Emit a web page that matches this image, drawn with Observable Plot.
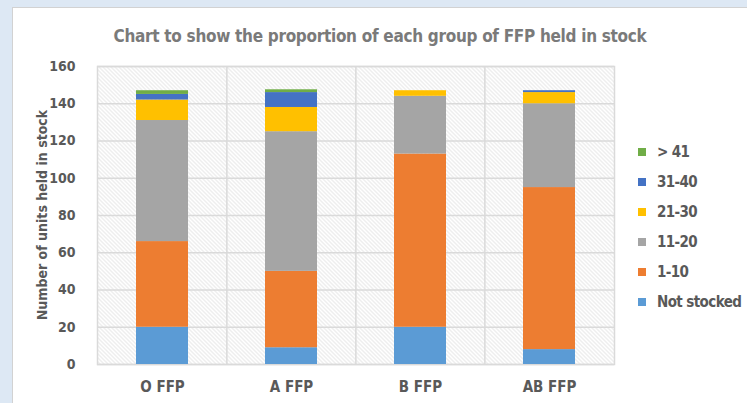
<!DOCTYPE html>
<html><head><meta charset="utf-8">
<script src="https://cdn.jsdelivr.net/npm/d3@7"></script>
<script src="https://cdn.jsdelivr.net/npm/@observablehq/plot@0.6"></script>
<style>
html,body{margin:0;padding:0;}
body{width:747px;height:403px;background:#dde8f4;position:relative;overflow:hidden;
  font-family:"Liberation Sans Narrow","DejaVu Sans Condensed","Roboto Condensed",sans-serif;}
#card{position:absolute;left:12px;top:7px;width:745px;height:405px;background:#fff;border:1px solid #d2d2d2;box-sizing:border-box;}
#chart{position:absolute;left:0;top:0;}
#title{position:absolute;left:0;width:760px;text-align:center;top:26px;font-size:17px;letter-spacing:-0.3px;font-weight:bold;color:#7a7a7a;white-space:nowrap;}
#ytitle{position:absolute;left:42px;top:215px;transform:translate(-50%,-50%) rotate(-90deg);font-size:14px;font-weight:bold;color:#595959;white-space:nowrap;}
#legend{position:absolute;left:638px;top:137px;}
.item{position:relative;height:30px;line-height:30px;font-size:15px;letter-spacing:-0.6px;font-weight:bold;color:#595959;white-space:nowrap;}
.sw{position:absolute;left:0;top:11px;width:8px;height:8px;}
.lab{position:absolute;left:19px;top:0;}
</style>
</head><body>
<div id="card"></div>
<div id="chart"></div>
<div id="title">Chart to show the proportion of each group of FFP held in stock</div>
<div id="ytitle">Number of units held in stock</div>
<div id="legend"></div>
<script>
const groups = ["O FFP", "A FFP", "B FFP", "AB FFP"];
const series = ["Not stocked", "1-10", "11-20", "21-30", "31-40", "> 41"];
const colors = ["#5B9BD5", "#ED7D31", "#A5A5A5", "#FFC000", "#4472C4", "#70AD47"];
const notStocked = [20, 9, 20, 8];
const units1to10 = [46, 41, 93, 87];
const units11to20 = [65, 75, 31, 45];
const units21to30 = [11, 13, 3, 6];
const units31to40 = [3, 8, 0, 1];
const units41plus = [2, 1.5, 0, 0];
const yTickCount = 8;

const seriesValues = [notStocked, units1to10, units11to20, units21to30, units31to40, units41plus];
const table = [];
series.forEach((s, i) => groups.forEach((g, j) => table.push({group: g, series: s, value: seriesValues[i][j]})));

const font = '"Liberation Sans Narrow","DejaVu Sans Condensed","Roboto Condensed",sans-serif';
const W = 747, H = 403, mL = 97, mR = 133, mT = 66, mB = 39;
const step = (W - mL - mR) / groups.length;

const svg = Plot.plot({
  width: W, height: H,
  marginLeft: mL, marginRight: mR, marginTop: mT, marginBottom: mB,
  style: {background: "transparent", fontFamily: font, fontSize: "15px", fontWeight: "bold", color: "#595959"},
  x: {domain: groups, paddingInner: 0.6, paddingOuter: 0.3, label: null, tickSize: 0, tickPadding: 17},
  y: {domain: [0, 160], ticks: yTickCount, label: null, tickSize: 0, tickPadding: 22},
  color: {domain: series, range: colors},
  marks: [
    Plot.frame({fill: "white", stroke: "#dadada", strokeWidth: 1.5}),
    Plot.ruleY(d3.ticks(0, 160, yTickCount), {stroke: "#dadada", strokeWidth: 1.5}),
    Plot.ruleX(groups.slice(1), {x: d => d, dx: -step / 2, stroke: "#dadada", strokeWidth: 1.5}),
    Plot.barY(table, {x: "group", y: "value", fill: "series"})
  ]
});

// hatch pattern for plot background
const s = d3.select(svg);
const defs = s.insert("defs", ":first-child");
const pat = defs.append("pattern").attr("id", "hatch").attr("patternUnits", "userSpaceOnUse")
  .attr("width", 4).attr("height", 4);
pat.append("rect").attr("width", 4).attr("height", 4).attr("fill", "#ffffff");
pat.append("path").attr("d", "M-1,-1L5,5M-1,3L1,5M3,-1L5,1").attr("stroke", "#d8d8d8").attr("stroke-width", 0.9);
s.selectAll("[aria-label=frame]").attr("fill", "url(#hatch)");
s.selectAll("[aria-label='y-axis tick label'] text, [aria-label='y-axis'] text").style("font-size", "14px");
document.getElementById("chart").appendChild(svg);

const legend = d3.select("#legend");
series.slice().reverse().forEach(name => {
  const it = legend.append("div").attr("class", "item");
  it.append("div").attr("class", "sw").style("background", colors[series.indexOf(name)]);
  it.append("div").attr("class", "lab").text(name);
});
</script>
</body></html>
